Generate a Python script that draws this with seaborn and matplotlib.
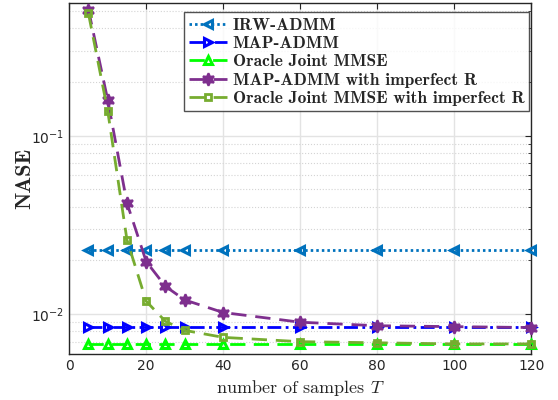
'''
NASE against number of samples, log scale.
'''
import matplotlib
matplotlib.use('Agg')
import matplotlib.pyplot as plt
import seaborn as sns
import numpy as np


samples = [5, 10, 15, 20, 25, 30, 40, 60, 80, 100, 120]

irw_admm = [0.023] * 11
map_admm = [0.0085] * 11
oracle_mmse = [0.0068] * 11
map_admm_imperfect = [0.51, 0.159, 0.042, 0.0197, 0.0143, 0.0120,
                      0.0102, 0.0090, 0.0086, 0.0085, 0.0084]
oracle_imperfect = [0.485, 0.138, 0.0261, 0.0118, 0.0091, 0.0081,
                    0.0074, 0.0070, 0.0069, 0.0068, 0.0068]

labels = ['IRW-ADMM', 'MAP-ADMM', 'Oracle Joint MMSE',
          'MAP-ADMM with imperfect R', 'Oracle Joint MMSE with imperfect R']
x_ticks = [0, 20, 40, 60, 80, 100, 120]

sns.set_style('white')
plt.rcParams['mathtext.fontset'] = 'cm'

fig = plt.figure(figsize=(5.58, 4), dpi=100)
ax = fig.add_axes([0.124, 0.115, 0.828, 0.8775])

lw = 2.0
styles = [
    dict(color='#0072BD', dashes=(0.9, 1.1), marker='<', mfc='none', ms=6, mew=2.2),
    dict(color='#0000FF', dashes=(5.0, 1.6, 1.0, 1.6), marker='>', mfc='none', ms=6, mew=2.2),
    dict(color='#00FF00', dashes=(5.5, 3.0), marker='^', mfc='none', ms=6, mew=2.2),
    dict(color='#7E2F8E', dashes=(5.5, 3.2), marker=(6, 1, 0), mfc='#7E2F8E', ms=9, mew=1.5),
    dict(color='#77AC30', dashes=(5.5, 3.2), marker='s', mfc='none', ms=4.5, mew=2.0),
]
series = [irw_admm, map_admm, oracle_mmse, map_admm_imperfect, oracle_imperfect]

for vals, lab, st in zip(series, labels, styles):
    sns.lineplot(x=samples, y=vals, ax=ax, label=lab, color=st['color'],
                 dashes=False, linewidth=lw, marker=st['marker'],
                 markersize=st['ms'], markerfacecolor=st['mfc'],
                 markeredgecolor=st['color'], markeredgewidth=st['mew'],
                 clip_on=False, zorder=3)
    ax.lines[-1].set_dashes(st['dashes'])

ax.set_yscale('log')
ax.set_xlim(0, 120)
ax.set_ylim(0.00597, 0.555)
ax.set_xticks(x_ticks)
ax.set_xticklabels([str(t) for t in x_ticks])

ax.grid(True, which='major', color='#e3e3e3', linewidth=1.0, linestyle='-')
ax.grid(True, which='minor', axis='y', color='#d4d4d4', linewidth=0.8,
        linestyle=':')
ax.set_axisbelow(True)

ax.tick_params(which='both', direction='in', top=True, right=True,
               colors='#262626', labelsize=10)
ax.tick_params(which='major', length=4)
ax.tick_params(which='minor', length=2.5)
for sp in ax.spines.values():
    sp.set_color('#262626')
    sp.set_linewidth(1.0)

ax.set_xlabel(r'number of samples $T$', fontsize=13, family='cmr10',
              labelpad=4)
ax.set_ylabel('NASE', fontsize=16, family='cmb10', labelpad=-2)

leg = ax.legend(loc='upper right', bbox_to_anchor=(1.0, 0.978),
                borderaxespad=0.1, frameon=True, fancybox=False,
                handlelength=2.2, handletextpad=0.3, borderpad=0.3,
                labelspacing=0.18, prop={'family': 'cmb10', 'size': 12.5})
leg.get_frame().set_edgecolor('#262626')
leg.get_frame().set_linewidth(1.0)
for h, st in zip(leg.get_lines(), styles):
    h.set_dashes(st['dashes'])

fig.savefig('out.png', dpi=100)
